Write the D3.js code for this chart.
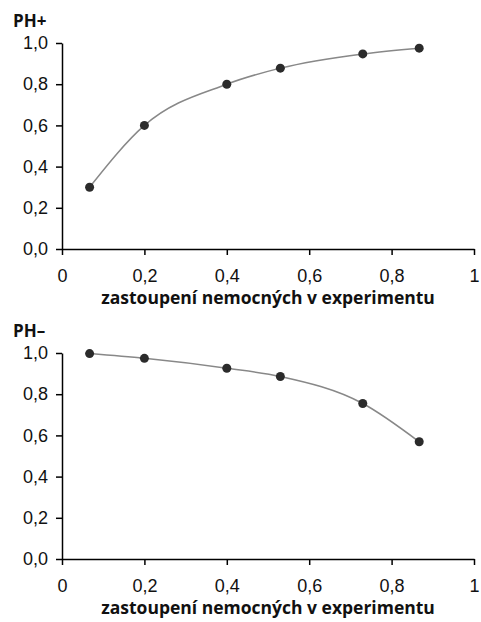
<!DOCTYPE html>
<html>
<head>
<meta charset="utf-8">
<script src="https://cdn.jsdelivr.net/npm/d3@7"></script>
<style>
  body { margin: 0; background: #fff; }
  svg { display: block; }
</style>
</head>
<body>
<div id="chart"></div>
<script>
// proportion of sick subjects in the experiment (x) for both panels
const podil = [0.067, 0.2, 0.4, 0.53, 0.73, 0.867];
const phPlus = [0.30, 0.60, 0.80, 0.878, 0.947, 0.975];
const phMinus = [0.997, 0.974, 0.926, 0.886, 0.755, 0.569];
const xTicks = [0, 0.2, 0.4, 0.6, 0.8, 1];
const yTicks = [0, 0.2, 0.4, 0.6, 0.8, 1.0];
const panels = [
  { title: "PH+", values: phPlus, top: 43 },
  { title: "PH–", values: phMinus, top: 353 }
];
const xTitle = "zastoupení nemocných v experimentu";

const width = 481, height = 622;
const left = 62, right = 474, plotH = 206;

const svg = d3.select("#chart").append("svg")
  .attr("width", width)
  .attr("height", height);

const fmt = d => d === 0 || d === 1 ? String(d) : d3.format(".1f")(d).replace(".", ",");
const fmtY = d => d3.format(".1f")(d).replace(".", ",");

panels.forEach(p => {
  const x = d3.scaleLinear().domain([0, 1]).range([left, right]);
  const y = d3.scaleLinear().domain([0, 1]).range([p.top + plotH, p.top]);
  const g = svg.append("g");

  const xa = g.append("g")
    .attr("transform", "translate(0," + (p.top + plotH) + ")")
    .call(d3.axisBottom(x).tickValues(xTicks).tickFormat(fmt).tickSize(6).tickSizeOuter(0).tickPadding(14));
  const ya = g.append("g")
    .attr("transform", "translate(" + left + ",0)")
    .call(d3.axisLeft(y).tickValues(yTicks).tickFormat(fmtY).tickSize(6).tickSizeOuter(0).tickPadding(8));

  [xa, ya].forEach(a => {
    a.attr("font-size", null).attr("font-family", null);
    a.select(".domain").attr("stroke", "#000").attr("stroke-width", 1.5);
    a.selectAll(".tick line").attr("stroke", "#000").attr("stroke-width", 1.5);
    a.selectAll("text")
      .attr("fill", "#111")
      .style("font-family", "'Liberation Sans', Arial, sans-serif")
      .style("font-size", "18px");
  });

  const pts = podil.map((v, i) => [v, p.values[i]]);
  g.append("path")
    .datum(pts)
    .attr("fill", "none")
    .attr("stroke", "#888")
    .attr("stroke-width", 1.5)
    .attr("d", d3.line().x(d => x(d[0])).y(d => y(d[1])).curve(d3.curveMonotoneX));

  g.selectAll("circle")
    .data(pts)
    .enter()
    .append("circle")
    .attr("cx", d => x(d[0]))
    .attr("cy", d => y(d[1]))
    .attr("r", 4.5)
    .attr("fill", "#2b2b2b");

  g.append("text")
    .attr("x", 13)
    .attr("y", p.top - 16)
    .text(p.title)
    .attr("fill", "#111")
    .style("font-family", "'Open Sans', sans-serif")
    .style("font-weight", "bold")
    .style("font-size", "17px");

  g.append("text")
    .attr("x", (left + right) / 2)
    .attr("y", p.top + plotH + 55)
    .attr("text-anchor", "middle")
    .text(xTitle)
    .attr("fill", "#111")
    .style("font-family", "'Open Sans', sans-serif")
    .style("font-weight", "bold")
    .style("font-size", "17.5px");
});
</script>
</body>
</html>
